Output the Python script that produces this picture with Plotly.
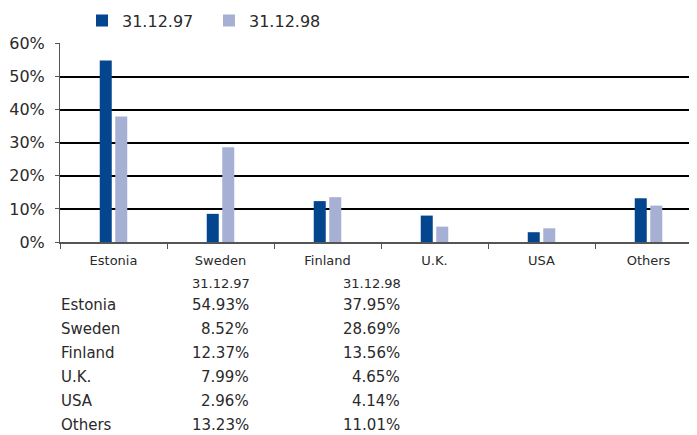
import plotly.graph_objects as go

categories = ["Estonia", "Sweden", "Finland", "U.K.", "USA", "Others"]
series_names = ["31.12.97", "31.12.98"]
values_97 = [54.93, 8.52, 12.37, 7.99, 2.96, 13.23]
values_98 = [37.95, 28.69, 13.56, 4.65, 4.14, 11.01]
y_ticks = [0, 10, 20, 30, 40, 50, 60]
y_tick_labels = ["0%", "10%", "20%", "30%", "40%", "50%", "60%"]

colors = ["#03458f", "#a6b0d5"]
FONT = "DejaVu Sans"
TXT = "#2a2a2a"

# page body has an 8px margin; work in figure coordinates
OFF = 8
W, H = 697 - OFF, 435 - OFF
L, R, T, B = 60 - OFF, 0, 43 - OFF, 435 - 242
pw = W - L - R
ph = H - T - B
SLOT = 107.0  # category slot width in the reference (plot runs past the right edge)

def px_x(px):
    return (px - OFF - L) / pw

def px_y(py):
    return (H - B - (py - OFF)) / ph

fig = go.Figure()
for name, vals, c in zip(series_names, [values_97, values_98], colors):
    fig.add_trace(go.Bar(x=categories, y=vals, name=name, marker=dict(color=c, line=dict(width=0))))

# table below chart
annotations = []
for name, xr in zip(series_names, [252, 403]):
    annotations.append(dict(x=px_x(xr), y=px_y(283), xref="paper", yref="paper",
                            text=name, showarrow=False, xanchor="right", yanchor="middle",
                            font=dict(family=FONT, size=13, color=TXT)))
for i, cat in enumerate(categories):
    yy = px_y(305 + 24 * i)
    annotations.append(dict(x=px_x(59), y=yy, xref="paper", yref="paper", text=cat,
                            showarrow=False, xanchor="left", yanchor="middle",
                            font=dict(family=FONT, size=15, color=TXT)))
    for vals, xr in zip([values_97, values_98], [251, 402]):
        annotations.append(dict(x=px_x(xr), y=yy, xref="paper", yref="paper",
                                text=f"{vals[i]:.2f}%", showarrow=False,
                                xanchor="right", yanchor="middle",
                                font=dict(family=FONT, size=15, color=TXT)))

fig.update_layout(
    width=W, height=H,
    margin=dict(l=L, r=R, t=T, b=B, autoexpand=False),
    paper_bgcolor="white", plot_bgcolor="white",
    barmode="group", bargap=0.71, bargroupgap=0.226,
    font=dict(family=FONT, color=TXT),
    showlegend=True,
    legend=dict(orientation="h", xref="paper", yref="paper",
                x=px_x(97 - 15), y=px_y(3.5), xanchor="left", yanchor="top",
                font=dict(family=FONT, size=16, color=TXT),
                entrywidth=82, traceorder="normal"),
    annotations=annotations,
    xaxis=dict(range=[-0.5, -0.5 + pw / SLOT], showgrid=False, showline=True,
               linecolor="#555555", linewidth=2,
               ticks="outside", tickson="boundaries", ticklen=5, tickcolor="#555555",
               tickwidth=1, tickfont=dict(family=FONT, size=13, color=TXT),
               ticklabelstandoff=5, automargin=False, fixedrange=True),
    yaxis=dict(range=[0, 60.2], tickvals=y_ticks, ticktext=y_tick_labels,
               showgrid=True, gridcolor="#000000", gridwidth=2,
               showline=True, linecolor="#555555", linewidth=1,
               ticks="outside", ticklen=4, tickcolor="#555555",
               tickfont=dict(family=FONT, size=16, color=TXT),
               ticklabelstandoff=7, zeroline=False, automargin=False, fixedrange=True),
)

fig.write_html("out.html")
